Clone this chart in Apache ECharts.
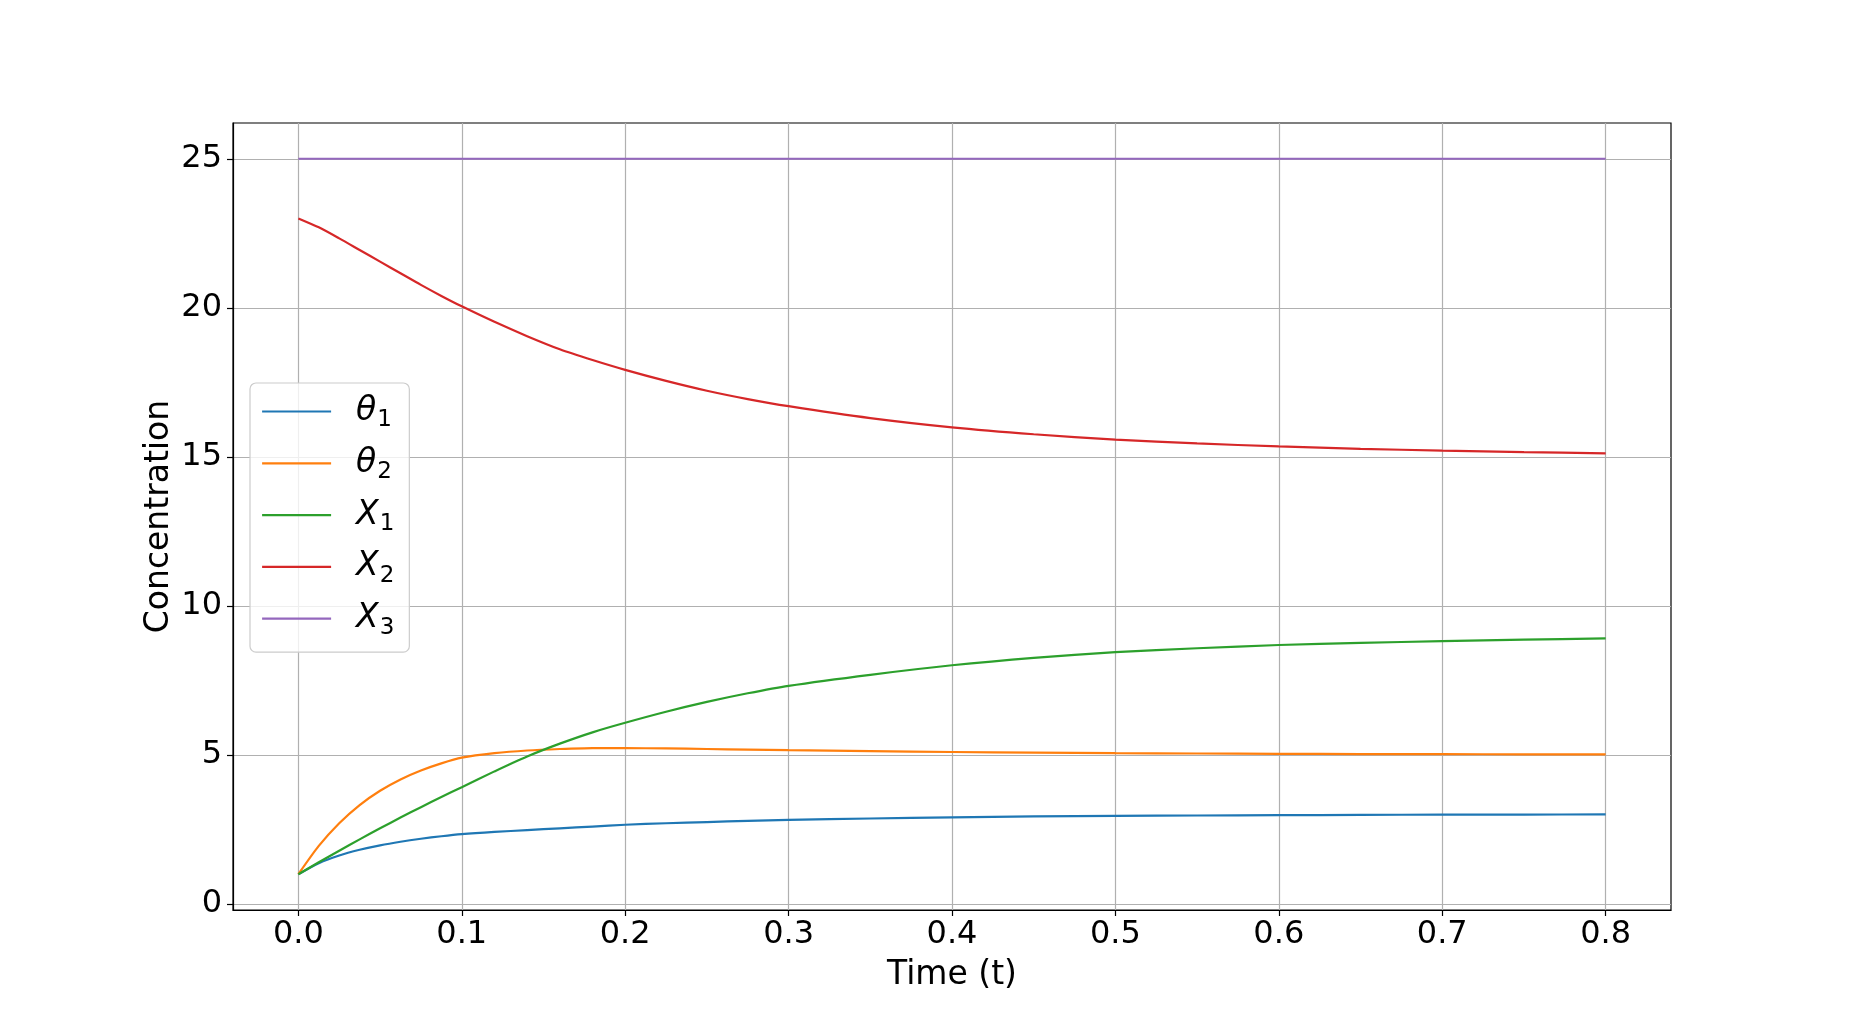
<!DOCTYPE html>
<html>
<head>
<meta charset="utf-8">
<script src="https://cdn.jsdelivr.net/npm/echarts@6/dist/echarts.min.js"></script>
<style>
html,body{margin:0;padding:0;background:#fff;}
#chart{width:1855px;height:1022px;}
</style>
</head>
<body>
<div id="chart"></div>
<script>
// ---- data ----
const timePoints = [0, 0.0125, 0.025, 0.0375, 0.05, 0.0625, 0.075, 0.0875, 0.1, 0.12, 0.14, 0.16, 0.18, 0.2, 0.225, 0.25, 0.275, 0.3, 0.35, 0.4, 0.45, 0.5, 0.55, 0.6, 0.65, 0.7, 0.75, 0.8];
const theta1 = [1.0, 1.37, 1.63, 1.82, 1.97, 2.09, 2.19, 2.275, 2.345, 2.42, 2.48, 2.54, 2.60, 2.66, 2.71, 2.75, 2.79, 2.82, 2.87, 2.91, 2.94, 2.96, 2.97, 2.98, 2.99, 3.00, 3.00, 3.01];
const theta2 = [1.0, 1.95, 2.71, 3.32, 3.80, 4.18, 4.48, 4.72, 4.91, 5.06, 5.15, 5.20, 5.23, 5.23, 5.22, 5.20, 5.18, 5.16, 5.13, 5.10, 5.08, 5.06, 5.05, 5.04, 5.03, 5.03, 5.02, 5.02];
const X1 = [1.0, 1.40, 1.79, 2.17, 2.54, 2.90, 3.25, 3.59, 3.92, 4.45, 4.95, 5.38, 5.76, 6.08, 6.45, 6.78, 7.07, 7.32, 7.69, 8.01, 8.26, 8.45, 8.58, 8.69, 8.76, 8.82, 8.87, 8.91];
const X2 = [23.0, 22.70, 22.33, 21.94, 21.55, 21.16, 20.77, 20.40, 20.05, 19.53, 19.05, 18.61, 18.25, 17.92, 17.55, 17.22, 16.94, 16.70, 16.30, 15.99, 15.76, 15.58, 15.45, 15.35, 15.27, 15.21, 15.16, 15.12];
const X3 = [25, 25, 25, 25, 25, 25, 25, 25, 25, 25, 25, 25, 25, 25, 25, 25, 25, 25, 25, 25, 25, 25, 25, 25, 25, 25, 25, 25];
const seriesNames = ['θ1', 'θ2', 'X1', 'X2', 'X3'];
const seriesLabels = ['{i|θ}{s|1}', '{i|θ}{s|2}', '{i|X}{s|1}', '{i|X}{s|2}', '{i|X}{s|3}'];
const seriesColors = ['#1f77b4', '#ff7f0e', '#2ca02c', '#d62728', '#9467bd'];
const xTicks = [0, 0.1, 0.2, 0.3, 0.4, 0.5, 0.6, 0.7, 0.8];
const yTicks = [0, 5, 10, 15, 20, 25];
const xTitle = 'Time (t)';
const yTitle = 'Concentration';

const allValues = [theta1, theta2, X1, X2, X3];
const FONT = 'DejaVu Sans';

const chart = echarts.init(document.getElementById('chart'), null, {renderer: 'canvas'});

const labelMap = {};
seriesNames.forEach((n, i) => { labelMap[n] = seriesLabels[i]; });

const series = seriesNames.map((name, i) => ({
  name: name,
  type: 'line',
  data: timePoints.map((t, k) => [t, allValues[i][k]]),
  showSymbol: false,
  symbol: 'none',
  smooth: 0.25,
  lineStyle: {color: seriesColors[i], width: 2.2},
  itemStyle: {color: seriesColors[i]},
  animation: false,
  z: 3
}));

const option = {
  animation: false,
  backgroundColor: '#ffffff',
  grid: {
    left: 233, top: 123, right: 184, bottom: 112,
    show: true, borderColor: '#000', borderWidth: 1.2, backgroundColor: 'transparent'
  },
  xAxis: {
    type: 'value',
    min: -0.04, max: 0.84,
    name: xTitle,
    nameLocation: 'middle',
    nameGap: 49,
    nameTextStyle: {fontFamily: FONT, fontSize: 33, color: '#000'},
    axisLine: {show: true, onZero: false, lineStyle: {color: '#000', width: 1.2}},
    axisTick: {show: true, customValues: xTicks, length: 6, lineStyle: {color: '#000', width: 1.2}},
    axisLabel: {customValues: xTicks, fontFamily: FONT, fontSize: 32, color: '#000', margin: 9,
      formatter: v => Number(v).toFixed(1)},
    splitLine: {show: true, lineStyle: {color: '#b0b0b0', width: 1.2}}
  },
  yAxis: {
    type: 'value',
    min: -0.2, max: 26.2,
    name: yTitle,
    nameLocation: 'middle',
    nameMoveOverlap: false,
    nameGap: 57,
    nameTextStyle: {fontFamily: FONT, fontSize: 33, color: '#000'},
    axisLine: {show: true, onZero: false, lineStyle: {color: '#000', width: 1.2}},
    axisTick: {show: true, customValues: yTicks, length: 6, lineStyle: {color: '#000', width: 1.2}},
    axisLabel: {customValues: yTicks, fontFamily: FONT, fontSize: 32, color: '#000', margin: 11,
      formatter: v => String(Math.round(v))},
    splitLine: {show: true, lineStyle: {color: '#b0b0b0', width: 1.2}}
  },
  legend: {
    show: true,
    orient: 'vertical',
    left: 250,
    top: 383,
    padding: [12, 15, 13, 11],
    itemGap: 14.8,
    itemWidth: 69,
    itemHeight: 40,
    itemStyle: {opacity: 0},
    lineStyle: {width: 2.2},
    backgroundColor: 'rgba(255,255,255,0.8)',
    borderColor: '#cccccc',
    borderWidth: 1.2,
    borderRadius: 6,
    data: seriesNames,
    formatter: name => labelMap[name],
    textStyle: {
      fontFamily: FONT,
      color: '#000',
      rich: {
        i: {fontFamily: FONT, fontStyle: 'italic', fontSize: 33, color: '#000', padding: [0, 0, 0, 20]},
        s: {fontFamily: FONT, fontSize: 23, color: '#000', padding: [18, 0, 0, 1]}
      }
    }
  },
  series: series
};

chart.setOption(option);
</script>
</body>
</html>
